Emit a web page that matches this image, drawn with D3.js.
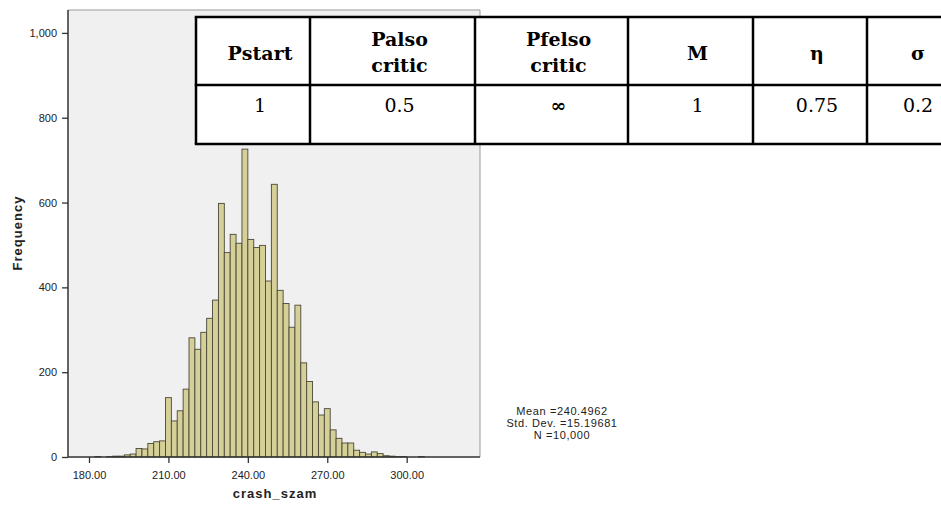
<!DOCTYPE html>
<html>
<head>
  <meta charset="utf-8">
  <title>crash_szam histogram</title>
  <style>
    body { margin: 0; background: #fff; }
    svg { display: block; }
  </style>
</head>
<body>
<script src="https://cdn.jsdelivr.net/npm/d3@7"></script>

<div id="chart"></div>

<script>
  // lower edge of every histogram bin (crash_szam), and the frequency in it
  const binLow = [
    182.22, 184.44, 186.67, 188.89, 191.11, 193.33, 195.56, 197.78, 200.00, 202.22, 204.44, 206.67,
    208.89, 211.11, 213.33, 215.56, 217.78, 220.00, 222.22, 224.44, 226.67, 228.89, 231.11, 233.33,
    235.56, 237.78, 240.00, 242.22, 244.44, 246.67, 248.89, 251.11, 253.33, 255.56, 257.78, 260.00,
    262.22, 264.44, 266.67, 268.89, 271.11, 273.33, 275.56, 277.78, 280.00, 282.22, 284.44, 286.67,
    288.89, 291.11, 293.33, 295.56, 297.78, 300.00, 302.22, 304.44, 306.67
  ];
  const binWidth = 2.2222;
  const counts = [
    1, 0, 1, 2, 2, 5, 7, 20, 19, 32, 36, 38,
    140, 85, 109, 160, 281, 254, 294, 327, 370, 598, 482, 525,
    504, 726, 513, 494, 499, 415, 643, 393, 362, 306, 358, 222,
    178, 130, 99, 114, 64, 44, 33, 33, 16, 11, 7, 12,
    8, 3, 2, 1, 1, 0, 0, 1, 0
  ];

  const xTicks = [180, 210, 240, 270, 300];
  const yTicks = [0, 200, 400, 600, 800, 1000];
  const xTitle = "crash_szam";
  const yTitle = "Frequency";
  const statLines = ["Mean =240.4962", "Std. Dev. =15.19681", "N =10,000"];

  // parameter table pasted over the chart
  const tableHead = [["Pstart"], ["Palso", "critic"], ["Pfelso", "critic"], ["M"], ["η"], ["σ"]];
  const tableRow = ["1", "0.5", "∞", "1", "0.75", "0.2"];

  const W = 941, H = 505;
  const plot = {left: 68, top: 10, right: 480, bottom: 457};

  const svg = d3.select("#chart")
    .append("svg")
      .attr("width", W)
      .attr("height", H);

  const x = d3.scaleLinear()
    .domain([172.07, 327.69])
    .range([plot.left, plot.right]);

  const y = d3.scaleLinear()
    .domain([0, 1054])
    .range([plot.bottom, plot.top]);

  // plot background
  svg.append("rect")
    .attr("x", plot.left)
    .attr("y", plot.top)
    .attr("width", plot.right - plot.left)
    .attr("height", plot.bottom - plot.top)
    .attr("fill", "#f0f0f0");

  // bars
  const bins = binLow.map((lo, i) => ({x0: lo, x1: lo + binWidth, n: counts[i]}));
  svg.append("g")
    .selectAll("rect")
    .data(bins.filter(d => d.n > 0))
    .join("rect")
      .attr("x", d => x(d.x0))
      .attr("y", d => y(d.n))
      .attr("width", d => x(d.x1) - x(d.x0))
      .attr("height", d => y(0) - y(d.n))
      .attr("fill", "#d5cf98")
      .attr("stroke", "#4a4838")
      .attr("stroke-width", 0.9);

  // frame
  svg.append("path")
    .attr("d", `M${plot.left},${plot.top}H${plot.right}V${plot.bottom}`)
    .attr("fill", "none")
    .attr("stroke", "#999")
    .attr("stroke-width", 1);
  svg.append("path")
    .attr("d", `M${plot.left},${plot.top}V${plot.bottom}H${plot.right}`)
    .attr("fill", "none")
    .attr("stroke", "#333")
    .attr("stroke-width", 1.5);

  // axes
  const yAxis = svg.append("g")
    .attr("transform", `translate(${plot.left},0)`)
    .call(d3.axisLeft(y).tickValues(yTicks).tickFormat(d3.format(",")).tickSize(6).tickPadding(5));
  const xAxis = svg.append("g")
    .attr("transform", `translate(0,${plot.bottom})`)
    .call(d3.axisBottom(x).tickValues(xTicks).tickFormat(d3.format(".2f")).tickSize(6).tickPadding(8));

  [xAxis, yAxis].forEach(a => {
    a.select(".domain").remove();
    a.selectAll(".tick line").attr("stroke", "#333").attr("stroke-width", 1.3);
    a.selectAll(".tick text")
      .attr("fill", "#222")
      .style("font-family", "'Liberation Sans', Arial, sans-serif")
      .style("font-size", "11px");
  });

  // axis titles
  svg.append("text")
    .attr("x", 275)
    .attr("y", 498)
    .attr("text-anchor", "middle")
    .style("font-family", "'Liberation Sans', Arial, sans-serif")
    .style("font-size", "13px")
    .style("font-weight", "bold")
    .style("letter-spacing", "1px")
    .attr("fill", "#222")
    .text(xTitle);

  svg.append("text")
    .attr("transform", "translate(22,233) rotate(-90)")
    .attr("text-anchor", "middle")
    .style("font-family", "'Liberation Sans', Arial, sans-serif")
    .style("font-size", "13px")
    .style("font-weight", "bold")
    .style("letter-spacing", "1px")
    .attr("fill", "#222")
    .text(yTitle);

  // summary statistics
  svg.append("g")
    .selectAll("text")
    .data(statLines)
    .join("text")
      .attr("x", 562)
      .attr("y", (d, i) => 415 + i * 12)
      .attr("text-anchor", "middle")
      .style("font-family", "'Liberation Sans', Arial, sans-serif")
      .style("font-size", "11px")
      .style("letter-spacing", "0.6px")
      .attr("fill", "#222")
      .text(d => d);

  // table
  const colEdges = [196, 310, 475, 628, 753, 867, 955];
  const rowEdges = [17, 85, 144];
  const tbl = svg.append("g");

  tbl.append("rect")
    .attr("x", colEdges[0])
    .attr("y", rowEdges[0])
    .attr("width", W - colEdges[0] + 20)
    .attr("height", rowEdges[2] - rowEdges[0])
    .attr("fill", "#fff");

  rowEdges.forEach(r => {
    tbl.append("line")
      .attr("x1", colEdges[0] - 1.25).attr("x2", W + 5)
      .attr("y1", r).attr("y2", r)
      .attr("stroke", "#000").attr("stroke-width", 2.5);
  });
  colEdges.slice(0, -1).forEach(c => {
    tbl.append("line")
      .attr("x1", c).attr("x2", c)
      .attr("y1", rowEdges[0]).attr("y2", rowEdges[2])
      .attr("stroke", "#000").attr("stroke-width", 2.5);
  });

  const colMid = i => (colEdges[i] + colEdges[i + 1]) / 2 + 7;

  tableHead.forEach((lines, i) => {
    const t = tbl.append("text")
      .attr("text-anchor", "middle")
      .style("font-family", "'DejaVu Serif', serif")
      .style("font-size", "19px")
      .style("font-weight", "bold")
      .attr("fill", "#000");
    lines.forEach((s, k) => {
      t.append("tspan")
        .attr("x", colMid(i))
        .attr("y", lines.length === 1 ? 60 : 46 + k * 26)
        .text(s);
    });
  });

  tbl.selectAll(".val")
    .data(tableRow)
    .join("text")
      .attr("class", "val")
      .attr("x", (d, i) => colMid(i))
      .attr("y", 112)
      .attr("text-anchor", "middle")
      .style("font-family", "'DejaVu Serif', serif")
      .style("font-size", "19px")
      .style("font-weight", d => d === "∞" ? "bold" : "normal")
      .attr("fill", "#000")
      .text(d => d);
</script>
</body>
</html>
